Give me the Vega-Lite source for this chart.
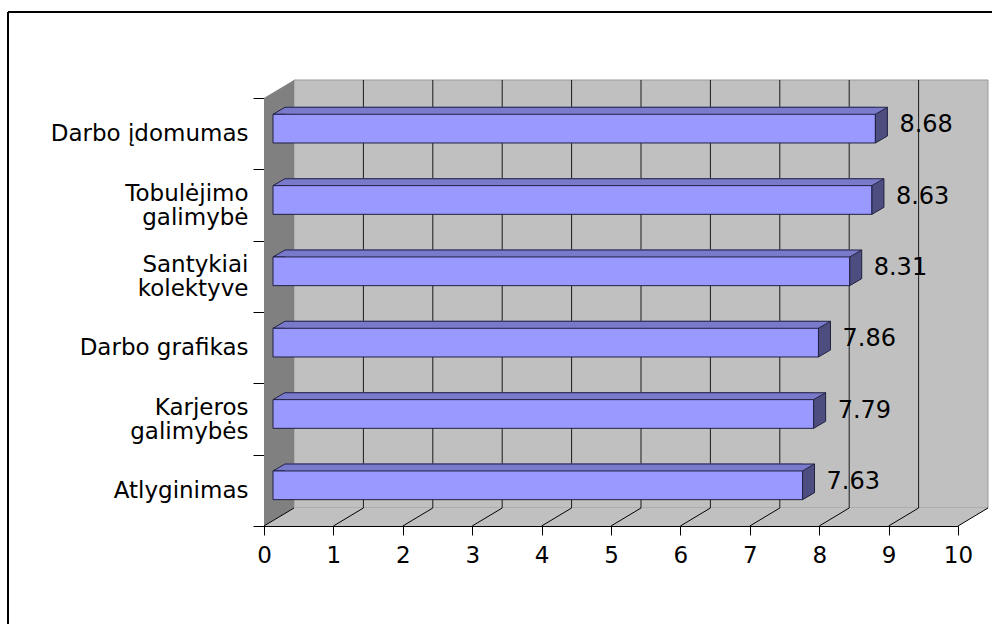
{
  "$schema": "https://vega.github.io/schema/vega-lite/v6.json",
  "width": 984,
  "height": 612,
  "padding": {"left": 8, "top": 12, "right": 0, "bottom": 0},
  "autosize": {"type": "none"},
  "background": "white",
  "config": {
    "view": {"stroke": null},
    "font": "DejaVu Sans",
    "axis": {"labelFont": "DejaVu Sans", "labelColor": "#000", "domainColor": "#000", "tickColor": "#000", "grid": false, "title": null}
  },
  "datasets": {
    "bars": [
      {"cat": "Darbo įdomumas", "v": 8.68},
      {"cat": "Tobulėjimo galimybė", "v": 8.63},
      {"cat": "Santykiai kolektyve", "v": 8.31},
      {"cat": "Darbo grafikas", "v": 7.86},
      {"cat": "Karjeros galimybės", "v": 7.79},
      {"cat": "Atlyginimas", "v": 7.63}
    ],
    "ticks": [{"v": 0}, {"v": 1}, {"v": 2}, {"v": 3}, {"v": 4}, {"v": 5}, {"v": 6}, {"v": 7}, {"v": 8}, {"v": 9}, {"v": 10}],
    "one": [{"k": 1}]
  },
  "layer": [
    {
      "data": {"name": "bars"},
      "layer": [
        {
          "data": {"name": "one"},
          "mark": {"type": "point", "shape": "M30,-18L724,-18L724,-446L30,-446Z", "size": 4, "filled": true, "fill": "#c0c0c0", "stroke": "#9a9a9a", "strokeWidth": 1, "opacity": 1},
          "encoding": {
            "x": {"datum": 0, "type": "quantitative"},
            "y": {"datum": "Atlyginimas", "type": "nominal", "bandPosition": 1}
          }
        },
        {
          "data": {"name": "ticks"},
          "transform": [{"filter": "datum.v > 0 && datum.v < 10"}],
          "mark": {"type": "point", "shape": "M30,-18L30,-446", "size": 4, "filled": false, "stroke": "#1a1a1a", "strokeWidth": 1, "opacity": 1},
          "encoding": {
            "x": {"field": "v", "type": "quantitative"},
            "y": {"datum": "Atlyginimas", "type": "nominal", "bandPosition": 1}
          }
        },
        {
          "data": {"name": "one"},
          "mark": {"type": "point", "shape": "M0,0L0,-428L30,-446L30,-18Z", "size": 4, "filled": true, "fill": "#808080", "opacity": 1, "strokeWidth": 0},
          "encoding": {
            "x": {"datum": 0, "type": "quantitative"},
            "y": {"datum": "Atlyginimas", "type": "nominal", "bandPosition": 1}
          }
        },
        {
          "data": {"name": "one"},
          "mark": {"type": "point", "shape": "M0,0L694,0L724,-18L30,-18Z", "size": 4, "filled": true, "fill": "#c0c0c0", "opacity": 1, "strokeWidth": 0},
          "encoding": {
            "x": {"datum": 0, "type": "quantitative"},
            "y": {"datum": "Atlyginimas", "type": "nominal", "bandPosition": 1}
          }
        },
        {
          "data": {"name": "ticks"},
          "mark": {"type": "point", "shape": "M0,0L30,-18", "size": 4, "filled": false, "stroke": "#000", "strokeWidth": 1, "opacity": 1},
          "encoding": {
            "x": {"field": "v", "type": "quantitative"},
            "y": {"datum": "Atlyginimas", "type": "nominal", "bandPosition": 1}
          }
        },
        {
          "mark": {"type": "bar", "fill": "#7a7acc", "stroke": "#7a7acc", "strokeWidth": 1, "height": 7, "xOffset": 9, "x2Offset": 21, "yOffset": -22.87, "y2Offset": -22.87},
          "encoding": {
            "x": {"field": "v", "type": "quantitative", "stack": null},
            "x2": {"datum": 0},
            "y": {"field": "cat", "type": "nominal"}
          }
        },
        {
          "mark": {"type": "point", "shape": "M21,-19.37L9,-19.37L21,-26.37", "size": 4, "filled": true, "fill": "#7a7acc", "stroke": "#202040", "strokeWidth": 1, "opacity": 1},
          "encoding": {
            "x": {"datum": 0, "type": "quantitative"},
            "y": {"field": "cat", "type": "nominal"}
          }
        },
        {
          "mark": {"type": "point", "shape": "M9,-19.37L9,-26.37L21,-26.37Z", "size": 4, "filled": true, "fill": "#7a7acc", "strokeWidth": 0, "opacity": 1},
          "encoding": {
            "x": {"field": "v", "type": "quantitative"},
            "y": {"field": "cat", "type": "nominal"}
          }
        },
        {
          "mark": {"type": "bar", "fill": "#202040", "strokeWidth": 0, "height": 1, "xOffset": 21, "x2Offset": 21, "yOffset": -26.37, "y2Offset": -26.37},
          "encoding": {
            "x": {"field": "v", "type": "quantitative", "stack": null},
            "x2": {"datum": 0},
            "y": {"field": "cat", "type": "nominal"}
          }
        },
        {
          "mark": {"type": "bar", "fill": "#9999ff", "stroke": "#202040", "strokeWidth": 1, "height": 28.7, "xOffset": 9, "x2Offset": 9, "yOffset": -5.02, "y2Offset": -5.02},
          "encoding": {
            "x": {
              "field": "v",
              "type": "quantitative",
              "stack": null,
              "scale": {"domain": [0, 10], "range": [256, 950], "nice": false, "zero": false},
              "axis": {"orient": "bottom", "offset": -98, "values": [0, 1, 2, 3, 4, 5, 6, 7, 8, 9, 10], "format": "d", "tickSize": 9, "labelPadding": 9, "labelFontSize": 23, "labelOverlap": false, "labelFlush": false, "title": null, "grid": false}
            },
            "x2": {"datum": 0},
            "y": {
              "field": "cat",
              "type": "nominal",
              "scale": {"domain": ["Darbo įdomumas", "Tobulėjimo galimybė", "Santykiai kolektyve", "Darbo grafikas", "Karjeros galimybės", "Atlyginimas"], "range": [86, 514], "paddingInner": 0, "paddingOuter": 0},
              "axis": {
                "orient": "left", "offset": -256, "tickBand": "extent", "tickSize": 11, "labelPadding": 5, "labelFontSize": 23, "labelLineHeight": 24, "labelLimit": 0, "title": null,
                "labelOffset": {"condition": {"test": "datum.value == 'Tobulėjimo galimybė' || datum.value == 'Santykiai kolektyve' || datum.value == 'Karjeros galimybės'", "value": -12}, "value": 0},
                "labelExpr": "datum.value == 'Tobulėjimo galimybė' ? ['Tobulėjimo', 'galimybė  '] : datum.value == 'Santykiai kolektyve' ? ['Santykiai', 'kolektyve'] : datum.value == 'Karjeros galimybės' ? ['Karjeros  ', 'galimybės'] : datum.label"
              }
            }
          }
        },
        {
          "mark": {"type": "point", "shape": "M9,-19.37L21,-26.37L21,2.33L9,9.33Z", "size": 4, "filled": true, "fill": "#4d4d80", "stroke": "#202040", "strokeWidth": 1, "opacity": 1},
          "encoding": {
            "x": {"field": "v", "type": "quantitative"},
            "y": {"field": "cat", "type": "nominal"}
          }
        },
        {
          "mark": {"type": "text", "align": "left", "baseline": "middle", "dx": 33, "dy": -8.5, "fontSize": 24, "font": "DejaVu Sans", "color": "#000"},
          "encoding": {
            "x": {"field": "v", "type": "quantitative"},
            "y": {"field": "cat", "type": "nominal"},
            "text": {"field": "v", "type": "quantitative", "format": ".2f"}
          }
        }
      ]
    },
    {
      "data": {"name": "one"},
      "layer": [
        {
          "mark": {"type": "rule", "color": "#000", "strokeWidth": 2},
          "encoding": {
            "x": {"datum": 0, "type": "quantitative", "scale": {"domain": [0, 1]}, "axis": null}
          }
        },
        {
          "mark": {"type": "rule", "color": "#000", "strokeWidth": 2},
          "encoding": {
            "y": {"datum": 1, "type": "quantitative", "scale": {"domain": [0, 1]}, "axis": null}
          }
        }
      ]
    }
  ],
  "resolve": {"scale": {"x": "independent", "y": "independent"}}
}
